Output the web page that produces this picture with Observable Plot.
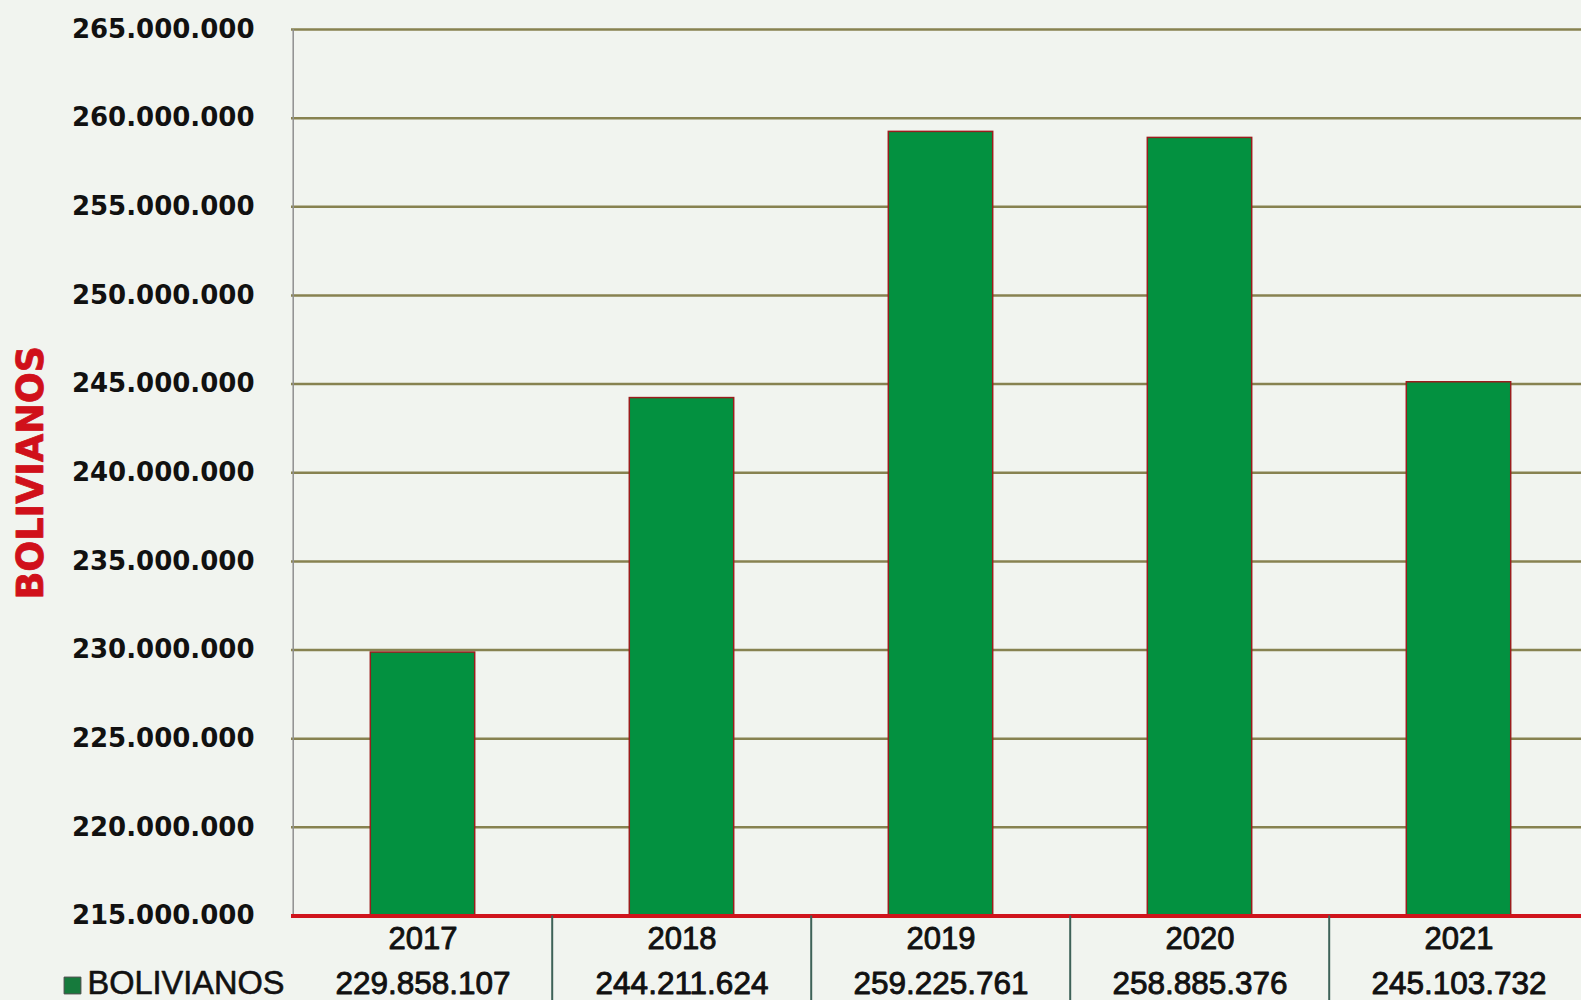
<!DOCTYPE html>
<html><head><meta charset="utf-8">
<script src="https://cdn.jsdelivr.net/npm/d3@7"></script>
<script src="https://cdn.jsdelivr.net/npm/@observablehq/plot@0.6"></script>
<style>
html,body{margin:0;padding:0;background:#f1f4ef;overflow:hidden}
svg{overflow:visible}
</style></head><body><div id="chart"></div>
<script>
// ---- data ----
const years = ["2017", "2018", "2019", "2020", "2021"];
const values = [229858107, 244211624, 259225761, 258885376, 245103732];
const yDomain = [215000000, 265000000];
const yTicks = [215000000, 220000000, 225000000, 230000000, 235000000, 240000000,
                245000000, 250000000, 255000000, 260000000, 265000000];
const seriesName = "BOLIVIANOS";
const axisTitle = "BOLIVIANOS";

const data = years.map((year, i) => ({year, value: values[i]}));

// ---- layout ----
const W = 1581, H = 1000, mL = 291, mT = 29, mB = 84.5;
const step = 259.6;
const barInset = 77.3;
const fmt = d => d3.format(",")(d).replace(/,/g, ".");

const chart = Plot.plot({
  width: W, height: H,
  marginLeft: mL, marginTop: mT, marginBottom: mB, marginRight: 0,
  style: {background: "transparent", fontFamily: "DejaVu Sans", overflow: "visible"},
  x: {type: "band", domain: years, range: [mL, mL + step * years.length], padding: 0, axis: null},
  y: {domain: yDomain, axis: null},
  marks: [
    Plot.ruleY(yTicks, {stroke: "#878250", strokeWidth: 2.5}),
    Plot.ruleX([years[0]], {x: d => d, dx: -step / 2, stroke: "#8f8f8f", strokeWidth: 1.5}),
    Plot.barY(data, {x: "year", y1: yDomain[0], y2: "value", insetLeft: barInset, insetRight: barInset,
      fill: "#039140", stroke: "#9a1d1d", strokeWidth: 1.5}),
    Plot.ruleY([yDomain[0]], {stroke: "#d0141c", strokeWidth: 4}),
    Plot.ruleX(years.slice(1), {x: d => d, dx: -step / 2, insetTop: H - mT - mB, insetBottom: -mB,
      stroke: "#3e6258", strokeWidth: 2}),
    Plot.axisY(yTicks, {tickSize: 0, tickPadding: 37, tickFormat: fmt, fontSize: 26,
      fontWeight: "bold", fill: "#111", stroke: "#111", strokeWidth: 0.4, label: null, fontFamily: "DejaVu Sans"}),
    Plot.text([axisTitle], {frameAnchor: "left", textAnchor: "middle", rotate: -90, dx: -260, fill: "#d0101a",
      stroke: "#d0101a", strokeWidth: 0.8,
      fontSize: 36.5, fontWeight: "bold", fontFamily: "DejaVu Sans"}),
    Plot.text(data, {x: "year", text: "year", frameAnchor: "bottom", dy: 32.5, fontSize: 31,
      fontFamily: "Liberation Sans", fill: "#111", stroke: "#111", strokeWidth: 0.9}),
    Plot.text(data, {x: "year", text: d => fmt(d.value), frameAnchor: "bottom", dy: 77.5, fontSize: 31.5,
      fontFamily: "Liberation Sans", fill: "#111", stroke: "#111", strokeWidth: 0.9}),
    Plot.dot([seriesName], {frameAnchor: "bottom-left", dx: -219, dy: 69.5, symbol: "square", r: 9.5,
      fill: "#167a3c", stroke: "#4a4a4a", strokeWidth: 1}),
    Plot.text([seriesName], {frameAnchor: "bottom-left", textAnchor: "start", dx: -204, dy: 77.5,
      fontSize: 32.5, fontFamily: "Liberation Sans", fill: "#111", stroke: "#111", strokeWidth: 0.6})
  ]
});
document.getElementById("chart").appendChild(chart);
</script></body></html>
